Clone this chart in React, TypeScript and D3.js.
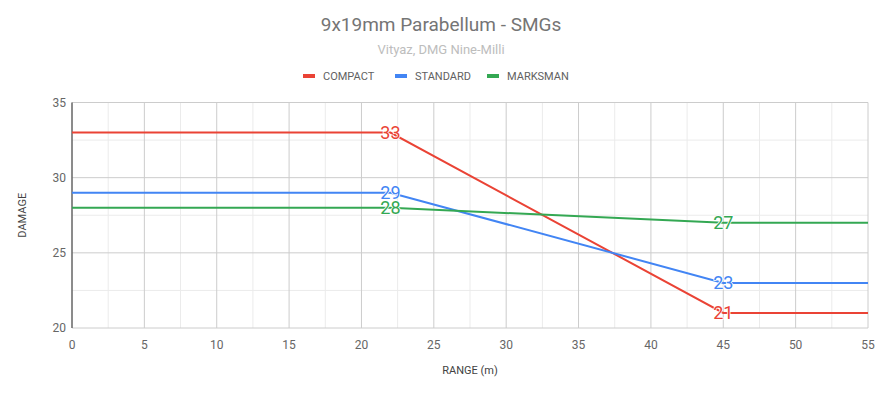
import React from 'react';
import * as d3 from 'd3';

// ranges (m) where damage changes
const ranges = [0, 22, 45, 55];
const compact = [33, 33, 21, 21];
const standard = [29, 29, 23, 23];
const marksman = [28, 28, 27, 27];
const seriesNames = ['COMPACT', 'STANDARD', 'MARKSMAN'];
const colors = ['#ea4335', '#4285f4', '#34a853'];
const xTicks = [0, 5, 10, 15, 20, 25, 30, 35, 40, 45, 50, 55];
const yTicks = [20, 25, 30, 35];
// annotated points (index into ranges)
const labelIdx = [1, 2];

const W = 883;
const H = 393;
const margin = { top: 102.5, right: 15, bottom: 65, left: 72 };

export default function App() {
  const x = d3.scaleLinear().domain([0, 55]).range([margin.left, W - margin.right]);
  const y = d3.scaleLinear().domain([20, 35]).range([H - margin.bottom, margin.top]);
  const series = [compact, standard, marksman];
  const line = d3.line<number>().x((_, i) => x(ranges[i])).y(d => y(d));

  const minorX = d3.range(2.5, 55, 5);
  const minorY = d3.range(22.5, 35, 5);
  const font = 'Roboto, sans-serif';

  const legendItems = [
    { x: 303, tx: 323 },
    { x: 395, tx: 415 },
    { x: 487, tx: 507 },
  ];

  return (
    <svg width={W} height={H} style={{ position: 'absolute', left: 0, top: 0, fontFamily: font }}>
      <rect width={W} height={H} fill="#fff" />
      <text x={441} y={31} textAnchor="middle" fontSize={19} fill="#757575">9x19mm Parabellum - SMGs</text>
      <text x={441} y={54} textAnchor="middle" fontSize={13} fill="#bdbdbd">Vityaz, DMG Nine-Milli</text>

      {seriesNames.map((n, i) => (
        <g key={n}>
          <rect x={legendItems[i].x} y={74} width={12} height={4} fill={colors[i]} />
          <text x={legendItems[i].tx} y={80} fontSize={11} fill="#616161">{n}</text>
        </g>
      ))}

      {minorX.map(v => (
        <line key={'mx' + v} x1={x(v)} x2={x(v)} y1={y(20)} y2={y(35)} stroke="#ebebeb" />
      ))}
      {minorY.map(v => (
        <line key={'my' + v} x1={x(0)} x2={x(55)} y1={y(v)} y2={y(v)} stroke="#ebebeb" />
      ))}
      {xTicks.map(v => (
        <line key={'gx' + v} x1={x(v)} x2={x(v)} y1={y(20)} y2={y(35)} stroke="#cccccc" />
      ))}
      {yTicks.map(v => (
        <line key={'gy' + v} x1={x(0)} x2={x(55)} y1={y(v)} y2={y(v)} stroke="#cccccc" />
      ))}
      <line x1={x(0)} x2={x(0)} y1={y(20)} y2={y(35)} stroke="#333" />

      {yTicks.map(v => (
        <text key={'yl' + v} x={x(0) - 6} y={y(v) + 4} textAnchor="end" fontSize={12} fill="#666">{v}</text>
      ))}
      {xTicks.map(v => (
        <text key={'xl' + v} x={x(v)} y={y(20) + 21} textAnchor="middle" fontSize={12} fill="#666">{v}</text>
      ))}

      <text x={470} y={374} textAnchor="middle" fontSize={11} fill="#424242">RANGE (m)</text>
      <text transform={`translate(26,${(y(20) + y(35)) / 2}) rotate(-90)`} textAnchor="middle" fontSize={11} fill="#424242">DAMAGE</text>

      {series.map((s, i) => (
        <path key={'l' + i} d={line(s) || ''} fill="none" stroke={colors[i]} strokeWidth={2} />
      ))}

      {series.map((s, i) =>
        labelIdx.map(j => (
          <text
            key={'a' + i + j}
            x={x(ranges[j])}
            y={y(s[j]) + 6.5}
            textAnchor="middle"
            fontSize={18}
            fill={colors[i]}
            stroke="#fff"
            strokeWidth={1.5}
            paintOrder="stroke"
          >
            {s[j]}
          </text>
        ))
      )}
    </svg>
  );
}
